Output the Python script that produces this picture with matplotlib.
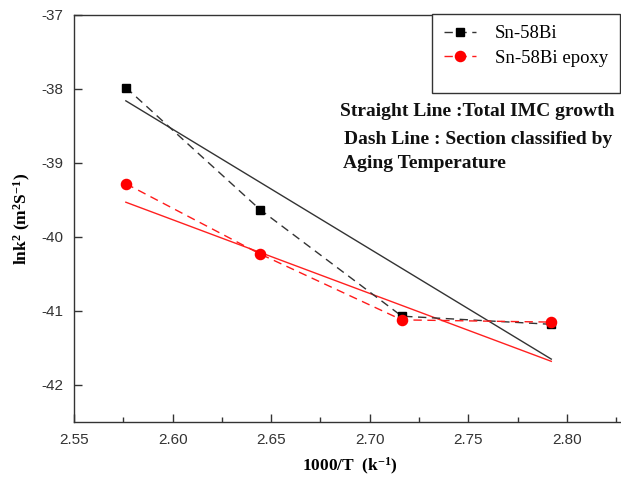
import matplotlib
matplotlib.use("Agg")
import matplotlib.pyplot as plt
from matplotlib.patches import Rectangle

serif = "Liberation Serif"
sans = "Liberation Sans"
plt.rcParams["mathtext.fontset"] = "custom"
plt.rcParams["mathtext.rm"] = serif + ":bold"
plt.rcParams["mathtext.bf"] = serif + ":bold"
plt.rcParams["mathtext.default"] = "bf"

# Data
inv_T = [2.5763, 2.6444, 2.7163, 2.7921]
sn58bi = [-37.98, -39.63, -41.07, -41.18]
sn58bi_epoxy = [-39.28, -40.23, -41.12, -41.15]
fit_x = [2.5763, 2.7921]
fit_sn58bi = [-38.16, -41.65]
fit_sn58bi_epoxy = [-39.53, -41.68]
xticks = [2.55, 2.60, 2.65, 2.70, 2.75, 2.80]
yticks = [-42, -41, -40, -39, -38, -37]

W, H = 621, 487
fig = plt.figure(figsize=(W / 100, H / 100), dpi=100)
ax = fig.add_axes([74 / W, (H - 422) / H, (626 - 74) / W, (422 - 15) / H])

# fits (solid)
ax.plot(fit_x, fit_sn58bi, color="#333333", lw=1.0)
ax.plot(fit_x, fit_sn58bi_epoxy, color="#ff2020", lw=1.0)

# dashed data
l1, = ax.plot(inv_T, sn58bi, ls=(0, (6, 4)), color="#333333", lw=1.0,
              marker="s", ms=6.3, mfc="black", mec="black", label="Sn-58Bi")
l2, = ax.plot(inv_T, sn58bi_epoxy, ls=(0, (6, 4)), color="#ff1a1a", lw=1.0,
              marker="o", ms=7.3, mfc="#ff0000", mec="#ff0000", label="Sn-58Bi epoxy")

ax.set_xlim(2.55, 2.83)
ax.set_ylim(-42.5, -37)
ax.set_xticks(xticks)
ax.set_xticklabels([f"{v:.2f}" for v in xticks])
ax.set_xticks([2.575, 2.625, 2.675, 2.725, 2.775, 2.825], minor=True)
ax.set_yticks(yticks)
ax.set_yticklabels([str(v) for v in yticks])

ax.tick_params(axis="both", which="major", direction="in", length=6, width=1.0,
               color="#333333", labelsize=11, labelcolor="#333333")
ax.tick_params(axis="x", which="minor", direction="in", length=3.5, width=1.0, color="#333333")
ax.tick_params(axis="x", pad=8)
ax.tick_params(axis="y", pad=8)
for lab in ax.get_xticklabels() + ax.get_yticklabels():
    lab.set_fontfamily(sans)
for s in ax.spines.values():
    s.set_color("#333333")
    s.set_linewidth(1.0)

ax.set_xlabel(r"1000/T  (k$^{-1}$)", fontfamily=serif, fontweight="bold",
              fontsize=12.5, labelpad=6)
ax.set_ylabel(r"lnk$^{2}$ (m$^{2}$S$^{-1}$)", fontfamily=serif,
              fontweight="bold", fontsize=12.5, labelpad=6)

# legend (entries) + a taller frame as in the original
leg = ax.legend(handles=[l1, l2], loc="upper left", bbox_to_anchor=(433 / W, 1 - 14 / H),
                bbox_transform=fig.transFigure, prop={"family": serif, "size": 13.5},
                frameon=False, handlelength=1.7, borderpad=0.6, labelspacing=0.4,
                borderaxespad=0, handletextpad=1.0)
leg.set_zorder(6)
frame = Rectangle((432 / W, 1 - 93 / H), (620 - 432) / W, (93 - 14) / H,
                  transform=fig.transFigure, fill=True, facecolor="white",
                  edgecolor="#333333", lw=1.0, zorder=4, clip_on=False)
ax.add_patch(frame)

tx = (340 - 74) / (626 - 74)
kw = dict(transform=ax.transAxes, fontfamily=serif, fontweight="bold", fontsize=14,
          va="center", ha="left", color="#111111")
ax.text(tx, 1 - (112 - 15) / 407, "Straight Line :Total IMC growth", **kw)
ax.text(tx + 4 / 552, 1 - (139 - 15) / 407, "Dash Line : Section classified by", **kw)
ax.text(tx + 3 / 552, 1 - (164 - 15) / 407, "Aging Temperature", **kw)

fig.savefig("out.png", dpi=100)
